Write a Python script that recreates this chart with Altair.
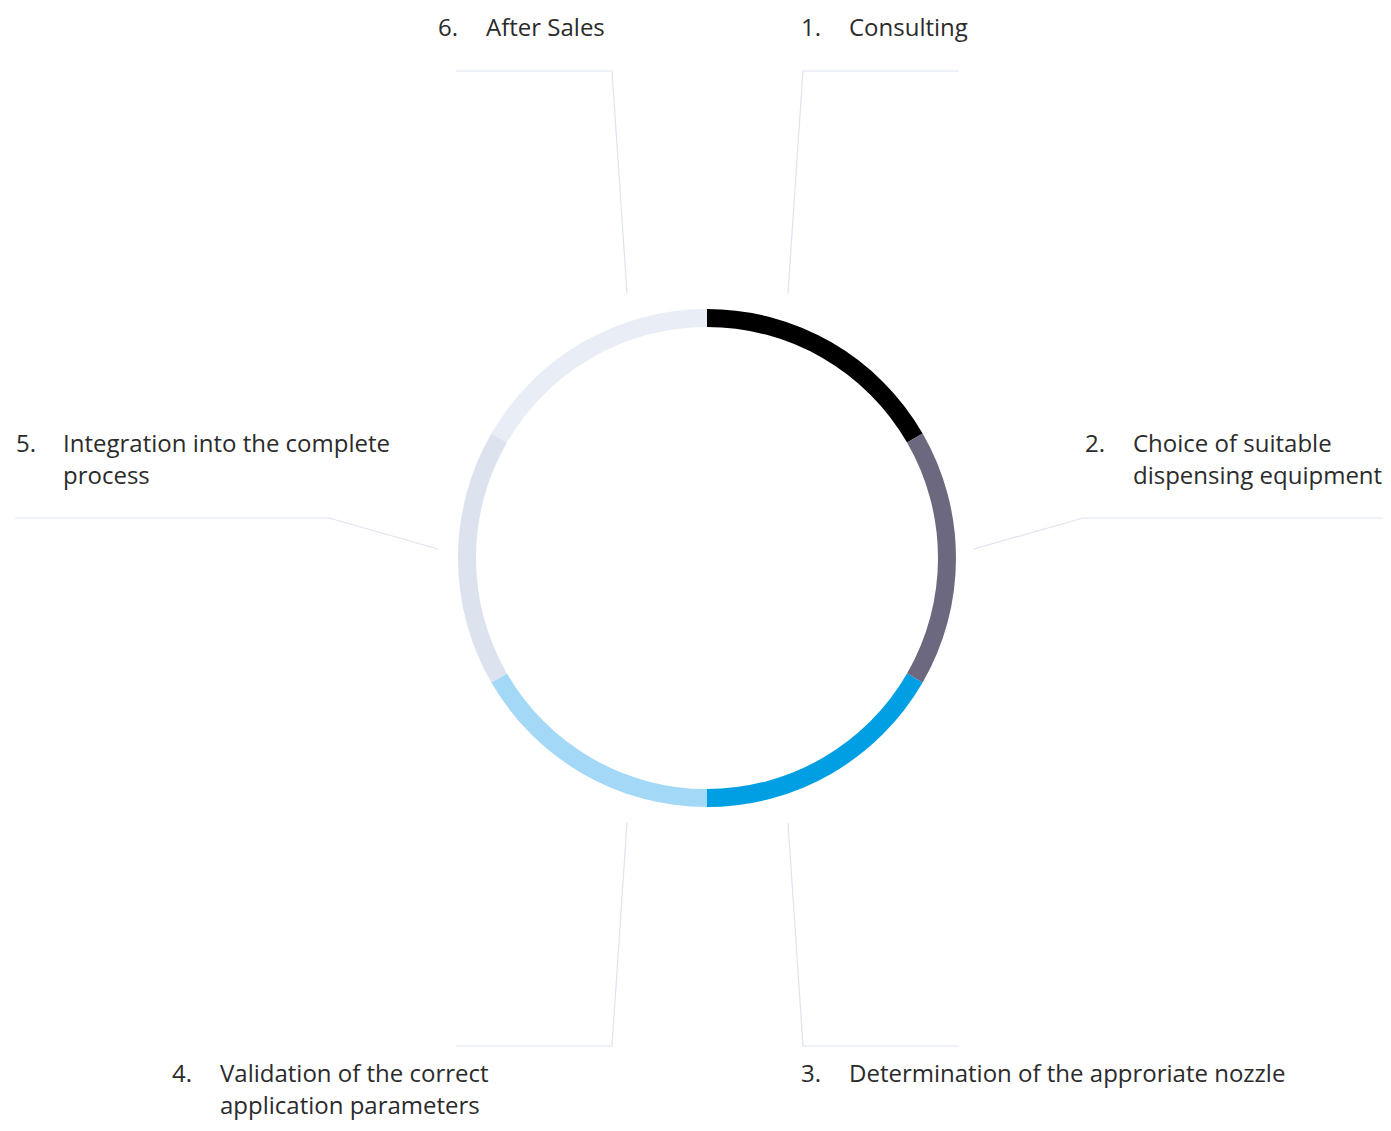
import altair as alt
import pandas as pd

# ---- data ----
steps = [1, 2, 3, 4, 5, 6]
step_text = [
    ["Consulting"],
    ["Choice of suitable", "dispensing equipment"],
    ["Determination of the approriate nozzle"],
    ["Validation of the correct", "application parameters"],
    ["Integration into the complete", "process"],
    ["After Sales"],
]
shares = [1, 1, 1, 1, 1, 1]
colors = ["#000000", "#6b6880", "#009fe3", "#a3d9f7", "#dde3ee", "#e9edf6"]

# ---- layout (units = px relative to ring centre, y up) ----
W, H = 1375, 1115
CX, CY = 699, 550
R_OUT, R_IN = 249, 231
LINE_GAP = 32
leaders = {
    1: [(81, 265), (96, 487), (252, 487)],
    2: [(267, 9), (376, 40), (684, 40)],
    3: [(81, -265), (96, -488), (252, -488)],
    4: [(-80, -265), (-95, -488), (-251, -488)],
    5: [(-269, 9), (-378, 40), (-692, 40)],
    6: [(-80, 265), (-95, 487), (-251, 487)],
}
anchors = {  # number x, text x, first line y
    1: (94, 142, 529),
    2: (378, 426, 113),
    3: (94, 142, -517),
    4: (-535, -487, -517),
    5: (-691, -644, 113),
    6: (-269, -221, 529),
}

ring_df = pd.DataFrame({"step": steps, "share": shares})
line_rows = []
for s in steps:
    for i, (x, y) in enumerate(leaders[s]):
        line_rows.append({"step": s, "seq": i, "x": x, "y": y})
line_df = pd.DataFrame(line_rows)
num_rows, txt_rows = [], []
for s, lines in zip(steps, step_text):
    nx, tx, y0 = anchors[s]
    num_rows.append({"label": f"{s}.", "x": nx, "y": y0})
    for i, t in enumerate(lines):
        txt_rows.append({"label": t, "x": tx, "y": y0 - i * LINE_GAP})
num_df = pd.DataFrame(num_rows)
txt_df = pd.DataFrame(txt_rows)

xs = alt.Scale(domain=[-CX, W - CX], nice=False, zero=False)
ys = alt.Scale(domain=[-(H - CY), CY], nice=False, zero=False)

ring = alt.Chart(ring_df).mark_arc(radius=R_OUT, radius2=R_IN, stroke=None).encode(
    theta=alt.Theta("share:Q", stack=True),
    order=alt.Order("step:Q"),
    color=alt.Color("step:N", scale=alt.Scale(domain=steps, range=colors), legend=None),
    x=alt.XDatum(0, type="quantitative", scale=xs, axis=None),
    y=alt.YDatum(0, type="quantitative", scale=ys, axis=None),
)

lines = alt.Chart(line_df).mark_line(color="#dfe3f1", strokeWidth=1.2).encode(
    x=alt.X("x:Q", scale=xs, axis=None),
    y=alt.Y("y:Q", scale=ys, axis=None),
    detail="step:N",
    order="seq:Q",
)

font = "Open Sans"
FS = 24
nums = alt.Chart(num_df).mark_text(align="left", baseline="middle", font=font, fontSize=FS, color="#2b2b2b").encode(
    x=alt.X("x:Q", scale=xs, axis=None),
    y=alt.Y("y:Q", scale=ys, axis=None),
    text="label:N",
)
texts = alt.Chart(txt_df).mark_text(align="left", baseline="middle", font=font, fontSize=FS, color="#2b2b2b").encode(
    x=alt.X("x:Q", scale=xs, axis=None),
    y=alt.Y("y:Q", scale=ys, axis=None),
    text="label:N",
)

chart = alt.layer(lines, ring, nums, texts).properties(
    width=W, height=H, padding=0, autosize=alt.AutoSizeParams(type="none")
).configure_view(stroke=None)

chart.save("out.html", embed_options={"renderer": "svg", "actions": False})
